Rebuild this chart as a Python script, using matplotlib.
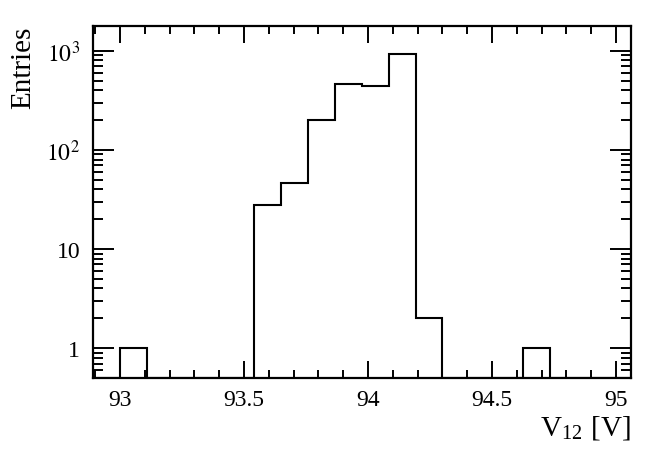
import numpy as np
import matplotlib
matplotlib.use("Agg")
import matplotlib.pyplot as plt
from matplotlib.ticker import MultipleLocator, LogLocator, NullFormatter

plt.rcParams['font.family'] = ['Liberation Serif', 'DejaVu Serif']
plt.rcParams['mathtext.fontset'] = 'stix'

# histogram: 20 bins between the axis limits
x_lo, x_hi = 92.89, 95.06
n_bins = 20
counts = [0, 1, 0, 0, 0, 0, 28, 46, 200, 460, 440, 930, 2, 0, 0, 0, 1, 0, 0, 0]

y_lo, y_hi = 0.5, 1775
y_ticks = [1, 10, 100, 1000]
y_tick_labels = ["1", "10", r"$10^{2}$", r"$10^{3}$"]
x_ticks = [93, 93.5, 94, 94.5, 95]
x_tick_labels = ["93", "93.5", "94", "94.5", "95"]

edges = np.linspace(x_lo, x_hi, n_bins + 1)
vals = np.array(counts, dtype=float)
vals_draw = np.where(vals > 0, vals, y_lo)  # empty bins sit on the frame, as in ROOT

fig = plt.figure(figsize=(6.64, 4.52), dpi=100)
ax = fig.add_axes([0.1396, 0.1615, 0.8104, 0.7785])

ax.stairs(vals_draw, edges, baseline=None, color='black', linewidth=1.5)

ax.set_yscale('log')
ax.set_xlim(x_lo, x_hi)
ax.set_ylim(y_lo, y_hi)

ax.set_xticks(x_ticks)
ax.set_xticklabels(x_tick_labels)
ax.xaxis.set_minor_locator(MultipleLocator(0.1))
ax.set_yticks(y_ticks)
ax.set_yticklabels(y_tick_labels)
ax.yaxis.set_minor_locator(LogLocator(base=10, subs=np.arange(2, 10), numticks=20))
ax.yaxis.set_minor_formatter(NullFormatter())

ax.tick_params(axis='both', which='both', direction='in', top=True, right=True,
               labelsize=17, width=1.4, color='black')
ax.tick_params(axis='x', which='major', length=12, pad=8)
ax.tick_params(axis='x', which='minor', length=6)
ax.tick_params(axis='y', which='major', length=15, pad=9)
ax.tick_params(axis='y', which='minor', length=7)

for s in ax.spines.values():
    s.set_linewidth(1.6)

ax.set_xlabel(r"V$_{\mathregular{12}}$ [V]", fontsize=21, loc='right', labelpad=2)
ax.set_ylabel("Entries", fontsize=21, loc='top', labelpad=7)

fig.savefig("out.png", dpi=100)
